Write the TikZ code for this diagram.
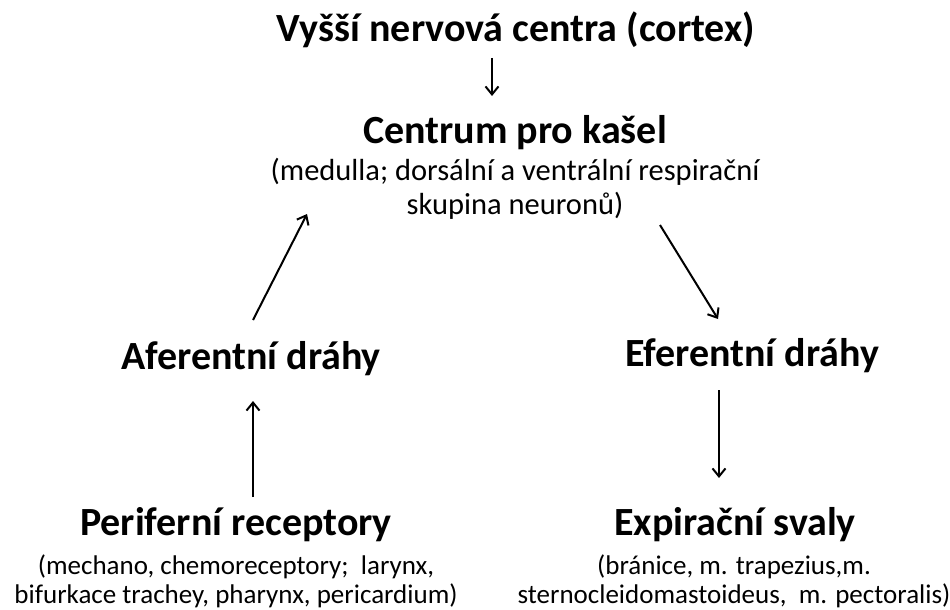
\documentclass[tikz,border=0pt]{standalone}
\usepackage{fontspec}
\setmainfont{Carlito}
\usetikzlibrary{arrows.meta}
\tikzset{
  head/.style={font=\bfseries\fontsize{40}{44}\selectfont, inner sep=0pt, anchor=base},
  desc/.style={font=\fontsize{30.5}{34}\selectfont, inner sep=0pt, anchor=base, align=center},
  descs/.style={font=\fontsize{27}{28.5}\selectfont, inner sep=0pt, anchor=base, align=center},
  arr/.style={line width=2pt, -{Straight Barb[length=8pt,width=13pt,line width=2pt]}}
}
\begin{document}
\begin{tikzpicture}[x=1pt,y=-1pt]
\useasboundingbox (0,0) rectangle (950,610);
\node[head] (cortex) at (516,42) {Vyšší nervová centra (cortex)};
\node[head] (centrum) at (515,143) {Centrum pro kašel};
\node[desc] (medulla) at (515,214) {(medulla; dorsální a ventrální respirační\\skupina neuronů)};
\node[head] (afer) at (251,369) {Aferentní dráhy};
\node[head] (efer) at (752,366) {Eferentní dráhy};
\node[head] (perif) at (236,535) {Periferní receptory};
\node[descs] (perifd) at (236,603) {(mechano, chemoreceptory;\ \ larynx,\\bifurkace trachey, pharynx, pericardium)};
\node[head] (expir) at (735,535) {Expirační svaly};
\node[descs] (expird) at (734,603) {(bránice, m. trapezius,m.\\sternocleidomastoideus,\ \ m. pectoralis)};
\coordinate (a1s) at (492,58);
\coordinate (a1e) at (492,96);
\coordinate (a2s) at (253,320);
\coordinate (a2e) at (307,214);
\coordinate (a3s) at (660,225);
\coordinate (a3e) at (718,319);
\coordinate (a4s) at (253,497);
\coordinate (a4e) at (253,401);
\coordinate (a5s) at (719,390);
\coordinate (a5e) at (719,478);
\draw[arr] (a1s) -- (a1e);
\draw[arr] (a2s) -- (a2e);
\draw[arr] (a3s) -- (a3e);
\draw[arr] (a4s) -- (a4e);
\draw[arr] (a5s) -- (a5e);
\end{tikzpicture}
\end{document}
